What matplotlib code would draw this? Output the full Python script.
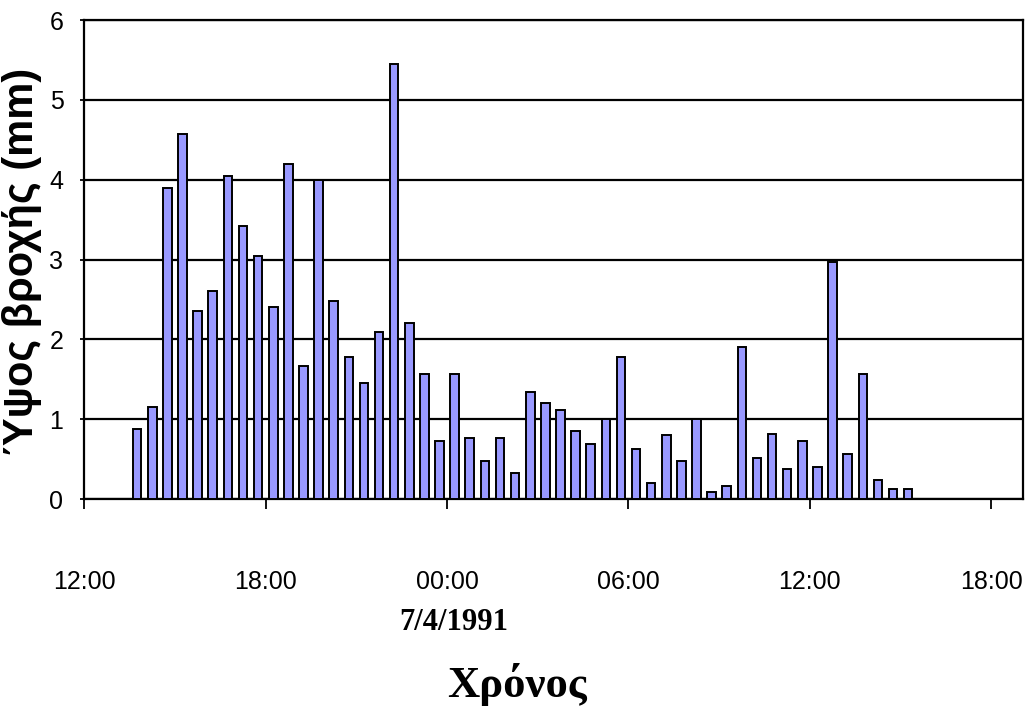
import matplotlib
matplotlib.use("Agg")
import matplotlib.pyplot as plt
import matplotlib.dates as mdates
from matplotlib import font_manager
import pandas as pd

# ---- data (half-hourly rainfall depth, mm) ----
start_time = "1991-04-06 13:45"
step = "30min"
rain_mm = [0.88, 1.15, 3.89, 4.57, 2.36, 2.60, 4.04, 3.42, 3.04, 2.41,
           4.20, 1.67, 4.00, 2.48, 1.78, 1.45, 2.09, 5.45, 2.21, 1.56,
           0.73, 1.56, 0.76, 0.48, 0.76, 0.33, 1.34, 1.20, 1.11, 0.85,
           0.69, 1.00, 1.78, 0.63, 0.20, 0.80, 0.48, 1.00, 0.09, 0.16,
           1.90, 0.52, 0.81, 0.37, 0.73, 0.40, 2.97, 0.57, 1.56, 0.24,
           0.12, 0.12]
x_start = "1991-04-06 12:00"
x_end = "1991-04-07 19:03"
tick_times = ["1991-04-06 12:00", "1991-04-06 18:00", "1991-04-07 00:00",
              "1991-04-07 06:00", "1991-04-07 12:00", "1991-04-07 18:00"]
date_label = "7/4/1991"
y_label = "Ύψος βροχής (mm)"
x_label = "Χρόνος"
y_ticks = [0, 1, 2, 3, 4, 5, 6]

times = pd.date_range(start_time, periods=len(rain_mm), freq=step)

avail = {f.name for f in font_manager.fontManager.ttflist}
sans = "Liberation Sans" if "Liberation Sans" in avail else "DejaVu Sans"
serif = "Liberation Serif" if "Liberation Serif" in avail else "DejaVu Serif"
if "Liberation Sans Narrow" in avail:
    narrow, stretch = "Liberation Sans Narrow", "normal"
else:
    narrow, stretch = sans, "condensed"

fig = plt.figure(figsize=(10.29, 7.2), dpi=100)
ax = fig.add_axes([0.0819, 0.3069, 0.9942 - 0.0819, 0.9722 - 0.3069])

bar_w = pd.Timedelta(minutes=17) / pd.Timedelta(days=1)
ax.bar(mdates.date2num(times), rain_mm, width=bar_w, color="#9999FF",
       edgecolor="black", linewidth=1.4, zorder=3)

ax.set_xlim(mdates.date2num(pd.Timestamp(x_start)), mdates.date2num(pd.Timestamp(x_end)))
ax.set_ylim(0, 6)
ax.set_yticks(y_ticks)
ax.set_xticks(mdates.date2num(pd.to_datetime(tick_times)))
ax.xaxis.set_major_formatter(mdates.DateFormatter("%H:%M"))

ax.yaxis.grid(True, color="black", linewidth=1.6, zorder=0)
ax.set_axisbelow(True)
for s in ax.spines.values():
    s.set_linewidth(1.6)
    s.set_color("black")

ax.tick_params(axis="x", direction="out", length=7, width=1.3, pad=44,
               labelsize=18)
ax.tick_params(axis="y", direction="out", length=3, width=1.3, pad=12,
               labelsize=18)
for lab in ax.get_xticklabels() + ax.get_yticklabels():
    lab.set_fontfamily(narrow)
    lab.set_fontstretch(stretch)

fig.text(454 / 1029, 1 - 622 / 720, date_label, ha="center", va="center",
         fontsize=22, fontweight="bold", family=serif)
fig.text(517 / 1029, 1 - 684 / 720, x_label, ha="center", va="center",
         fontsize=32, fontweight="bold", family=serif)
fig.text(22 / 1029, 1 - 262 / 720, y_label, ha="center", va="center",
         rotation=90, fontsize=30, fontweight="bold", family=sans)

fig.savefig("out.png", dpi=100)
